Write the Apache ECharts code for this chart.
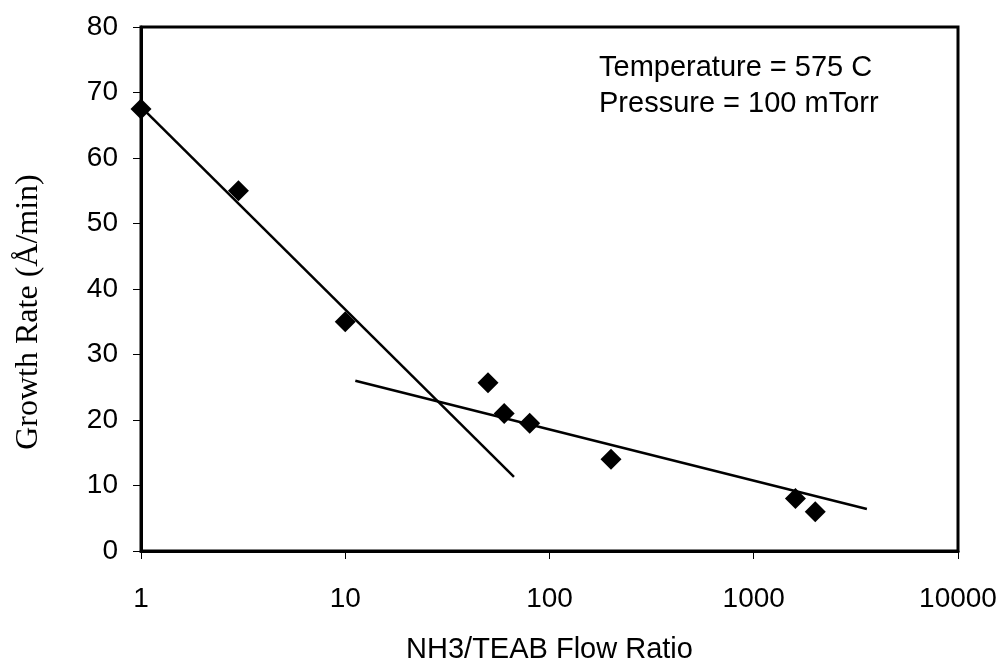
<!DOCTYPE html>
<html>
<head>
<meta charset="utf-8">
<script src="https://cdn.jsdelivr.net/npm/echarts@6/dist/echarts.min.js"></script>
<style>
html,body{margin:0;padding:0;background:#fff;}
#chart{width:1003px;height:667px;}
</style>
</head>
<body>
<div id="chart"></div>
<script>
// Measured data points
var flowRatio = [1, 3, 10, 50, 60, 80, 200, 1600, 2000];
var growthRate = [67.5, 55, 35, 25.7, 21, 19.5, 14, 8, 6];
// Fit line 1 (low ratio regime)
var fit1X = [1, 67];
var fit1Y = [67.8, 11.3];
// Fit line 2 (high ratio regime)
var fit2X = [11.2, 3580];
var fit2Y = [26, 6.4];
// Axis settings
var yTicks = [0, 10, 20, 30, 40, 50, 60, 70, 80];
var xTickLabels = ['1', '10', '100', '1000', '10000'];
var notes = ['Temperature = 575 C', 'Pressure = 100 mTorr'];

function pairs(xs, ys) { return xs.map(function (x, i) { return [x, ys[i]]; }); }

var sans = 'Liberation Sans, Arial, sans-serif';
var serif = 'Liberation Serif, Times New Roman, serif';

var chart = echarts.init(document.getElementById('chart'), null, {renderer: 'canvas'});
chart.setOption({
  animation: false,
  backgroundColor: '#fff',
  grid: {left: 141, right: 45, top: 27, bottom: 116, outerBoundsMode: 'none', containLabel: false,
    show: true, borderColor: '#000', borderWidth: 3, backgroundColor: 'transparent'},
  xAxis: {
    type: 'log', logBase: 10, min: 1, max: 10000,
    name: 'NH3/TEAB Flow Ratio', nameLocation: 'middle', nameGap: 84,
    nameTextStyle: {fontFamily: sans, fontSize: 29, color: '#000'},
    axisLine: {lineStyle: {color: '#000', width: 3}},
    axisTick: {show: true, inside: false, length: 8, lineStyle: {color: '#000', width: 1}},
    minorTick: {show: false},
    splitLine: {show: false},
    axisLabel: {fontFamily: sans, fontSize: 28, color: '#000', margin: 34,
      formatter: function (v) { var i = Math.round(Math.log10(v)); return xTickLabels[i] !== undefined ? xTickLabels[i] : ''; }}
  },
  yAxis: {
    type: 'value', min: yTicks[0], max: yTicks[yTicks.length - 1], interval: 10,
    axisLine: {show: true, lineStyle: {color: '#000', width: 3}},
    axisTick: {show: true, inside: false, length: 8, lineStyle: {color: '#000', width: 1}},
    splitLine: {show: false},
    axisLabel: {fontFamily: sans, fontSize: 28, color: '#000', margin: 23}
  },
  graphic: [
    {type: 'text', x: 29, y: 312, rotation: Math.PI / 2,
      style: {text: 'Growth Rate (Å/min)', fontFamily: serif, fontSize: 32, fill: '#000', textAlign: 'center', textVerticalAlign: 'middle'}},
    {type: 'text', x: 599, y: 68,
      style: {text: notes[0], fontFamily: sans, fontSize: 29, fill: '#000', textAlign: 'left', textVerticalAlign: 'middle'}},
    {type: 'text', x: 599, y: 104,
      style: {text: notes[1], fontFamily: sans, fontSize: 29, fill: '#000', textAlign: 'left', textVerticalAlign: 'middle'}}
  ],
  series: [
    {type: 'line', data: pairs(fit1X, fit1Y), symbol: 'none', lineStyle: {color: '#000', width: 2.5}, z: 2},
    {type: 'line', data: pairs(fit2X, fit2Y), symbol: 'none', lineStyle: {color: '#000', width: 2.5}, z: 2},
    {type: 'scatter', data: pairs(flowRatio, growthRate), symbol: 'diamond', symbolSize: 21,
      itemStyle: {color: '#000', opacity: 1}, z: 3}
  ]
});
</script>
</body>
</html>
